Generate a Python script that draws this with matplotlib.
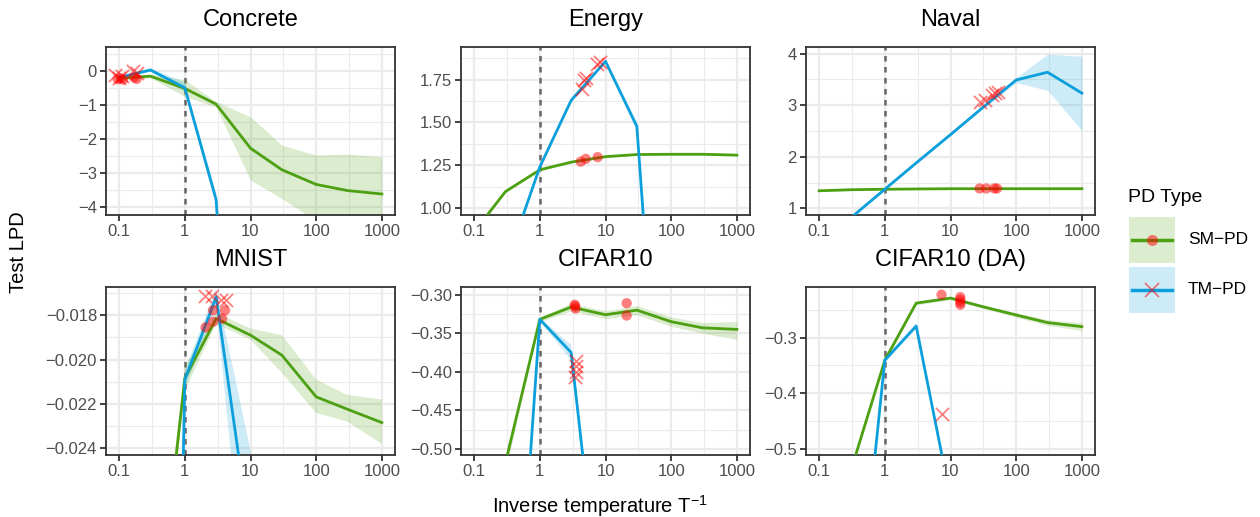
import numpy as np
import matplotlib
matplotlib.use("Agg")
import matplotlib.pyplot as plt
from matplotlib.patches import Rectangle

plt.rcParams['font.family'] = ['Liberation Sans', 'DejaVu Sans']
plt.rcParams['mathtext.fontset'] = 'custom'
plt.rcParams['mathtext.rm'] = 'Liberation Sans'

GREEN = '#4da012'
BLUE = '#0b9fdc'
MARK = (1.0, 0.0, 0.0, 0.5)

temps = [0.1, 0.3, 1, 3, 10, 30, 100, 300, 1000]

# Concrete
concrete_sm = [-0.22, -0.16, -0.52, -0.98, -2.27, -2.90, -3.33, -3.51, -3.61]
concrete_sm_lo = [-0.27, -0.21, -0.75, -1.07, -3.20, -3.74, -4.40, -4.45, -4.45]
concrete_sm_hi = [-0.17, -0.11, -0.26, -0.91, -1.35, -2.18, -2.47, -2.44, -2.52]
concrete_tm = [-0.20, 0.02, -0.50, -3.78, -20.0, -25.0, -30.0, -30.0, -30.0]
concrete_tm_lo = [-0.24, -0.03, -0.62, -3.95, -22.0, -27.0, -32.0, -32.0, -32.0]
concrete_tm_hi = [-0.16, 0.07, -0.34, -3.60, -18.0, -23.0, -28.0, -28.0, -28.0]
concrete_sm_pts_x = [0.095, 0.105, 0.115, 0.17, 0.185]
concrete_sm_pts_y = [-0.25, -0.22, -0.26, -0.20, -0.24]
concrete_tm_pts_x = [0.088, 0.10, 0.112, 0.165, 0.19]
concrete_tm_pts_y = [-0.13, -0.20, -0.16, 0.00, -0.07]

# Energy
energy_sm = [0.86, 1.096, 1.223, 1.268, 1.300, 1.3125, 1.314, 1.314, 1.309]
energy_sm_lo = [0.855, 1.091, 1.218, 1.263, 1.295, 1.3075, 1.309, 1.309, 1.304]
energy_sm_hi = [0.865, 1.101, 1.228, 1.273, 1.305, 1.3175, 1.319, 1.319, 1.314]
energy_tm = [0.20, 0.66, 1.24, 1.629, 1.857, 1.477, -1.3, -3.0, -5.0]
energy_tm_lo = [0.19, 0.65, 1.23, 1.619, 1.847, 1.452, -1.4, -3.1, -5.1]
energy_tm_hi = [0.21, 0.67, 1.25, 1.639, 1.867, 1.502, -1.2, -2.9, -4.9]
energy_sm_pts_x = [4.2, 5.0, 7.6]
energy_sm_pts_y = [1.271, 1.287, 1.297]
energy_tm_pts_x = [4.4, 4.7, 5.0, 7.3, 8.2]
energy_tm_pts_y = [1.697, 1.746, 1.76, 1.844, 1.853]

# Naval
naval_sm = [1.34, 1.36, 1.37, 1.375, 1.38, 1.38, 1.38, 1.38, 1.38]
naval_sm_lo = [1.33, 1.35, 1.36, 1.365, 1.37, 1.37, 1.37, 1.37, 1.37]
naval_sm_hi = [1.35, 1.37, 1.38, 1.385, 1.39, 1.39, 1.39, 1.39, 1.39]
naval_tm = [0.31, 0.81, 1.37, 1.88, 2.43, 2.94, 3.49, 3.64, 3.235]
naval_tm_lo = [0.29, 0.79, 1.35, 1.86, 2.41, 2.92, 3.44, 3.29, 2.51]
naval_tm_hi = [0.33, 0.83, 1.39, 1.90, 2.45, 2.96, 3.54, 3.99, 3.95]
naval_sm_pts_x = [27.8, 35.0, 46.5, 51.0]
naval_sm_pts_y = [1.385, 1.385, 1.385, 1.385]
naval_tm_pts_x = [28.5, 33.7, 42.6, 47.8, 53.6]
naval_tm_pts_y = [3.065, 3.10, 3.19, 3.23, 3.26]

# MNIST
mnist_sm = [-0.060, -0.0347, -0.02085, -0.01815, -0.0189, -0.0198, -0.02168, -0.02224, -0.02284]
mnist_sm_lo = [-0.062, -0.0357, -0.0214, -0.0184, -0.0191, -0.0206, -0.0224, -0.0228, -0.0238]
mnist_sm_hi = [-0.058, -0.0337, -0.0203, -0.0179, -0.0186, -0.0189, -0.0209, -0.0216, -0.0218]
mnist_tm = [-0.150, -0.100, -0.0209, -0.01718, -0.0281, -0.040, -0.050, -0.060, -0.070]
mnist_tm_lo = [-0.152, -0.102, -0.0213, -0.0176, -0.0330, -0.045, -0.055, -0.065, -0.075]
mnist_tm_hi = [-0.148, -0.098, -0.0205, -0.0168, -0.0241, -0.035, -0.045, -0.055, -0.065]
mnist_sm_pts_x = [2.07, 2.69, 2.69, 3.7, 4.1]
mnist_sm_pts_y = [-0.01855, -0.01778, -0.0183, -0.01815, -0.01778]
mnist_tm_pts_x = [2.0, 2.6, 3.6, 4.3]
mnist_tm_pts_y = [-0.01712, -0.01715, -0.01733, -0.0173]

# CIFAR10
cifar_sm = [-0.70, -0.518, -0.332, -0.316, -0.326, -0.320, -0.335, -0.343, -0.345]
cifar_sm_lo = [-0.71, -0.528, -0.335, -0.321, -0.331, -0.326, -0.341, -0.350, -0.358]
cifar_sm_hi = [-0.69, -0.508, -0.329, -0.311, -0.321, -0.314, -0.329, -0.336, -0.335]
cifar_tm = [-1.5, -0.975, -0.332, -0.375, -0.77, -1.0, -1.2, -1.4, -1.6]
cifar_tm_lo = [-1.51, -0.985, -0.334, -0.385, -0.78, -1.01, -1.21, -1.41, -1.61]
cifar_tm_hi = [-1.49, -0.965, -0.330, -0.365, -0.76, -0.99, -1.19, -1.39, -1.59]
cifar_sm_pts_x = [3.4, 3.45, 3.5, 21.0, 21.0]
cifar_sm_pts_y = [-0.313, -0.315, -0.318, -0.311, -0.327]
cifar_tm_pts_x = [3.5, 3.5, 3.55, 3.4]
cifar_tm_pts_y = [-0.386, -0.392, -0.400, -0.407]

# CIFAR10 (DA)
cifarda_sm = [-0.78, -0.542, -0.3406, -0.2376, -0.2285, -0.2436, -0.259, -0.2727, -0.280]
cifarda_sm_lo = [-0.785, -0.546, -0.3436, -0.2406, -0.2315, -0.2466, -0.263, -0.2777, -0.287]
cifarda_sm_hi = [-0.775, -0.538, -0.3376, -0.2346, -0.2255, -0.2406, -0.255, -0.2677, -0.273]
cifarda_tm = [-1.5, -0.94, -0.3406, -0.279, -0.589, -0.8, -1.0, -1.2, -1.4]
cifarda_tm_lo = [-1.51, -0.95, -0.3446, -0.284, -0.599, -0.81, -1.01, -1.21, -1.41]
cifarda_tm_hi = [-1.49, -0.93, -0.3366, -0.274, -0.579, -0.79, -0.99, -1.19, -1.39]
cifarda_sm_pts_x = [7.3, 14.1, 14.1, 14.1, 14.1]
cifarda_sm_pts_y = [-0.2224, -0.2267, -0.2315, -0.2364, -0.2406]
cifarda_tm_pts_x = [7.3]
cifarda_tm_pts_y = [-0.4376]

panels = [
    ('Concrete', concrete_sm, concrete_sm_lo, concrete_sm_hi, concrete_tm, concrete_tm_lo, concrete_tm_hi,
     concrete_sm_pts_x, concrete_sm_pts_y, concrete_tm_pts_x, concrete_tm_pts_y,
     (-4.225, 0.694), [0, -1, -2, -3, -4], '%d'),
    ('Energy', energy_sm, energy_sm_lo, energy_sm_hi, energy_tm, energy_tm_lo, energy_tm_hi,
     energy_sm_pts_x, energy_sm_pts_y, energy_tm_pts_x, energy_tm_pts_y,
     (0.959, 1.941), [1.00, 1.25, 1.50, 1.75], '%.2f'),
    ('Naval', naval_sm, naval_sm_lo, naval_sm_hi, naval_tm, naval_tm_lo, naval_tm_hi,
     naval_sm_pts_x, naval_sm_pts_y, naval_tm_pts_x, naval_tm_pts_y,
     (0.87, 4.13), [1, 2, 3, 4], '%d'),
    ('MNIST', mnist_sm, mnist_sm_lo, mnist_sm_hi, mnist_tm, mnist_tm_lo, mnist_tm_hi,
     mnist_sm_pts_x, mnist_sm_pts_y, mnist_tm_pts_x, mnist_tm_pts_y,
     (-0.0243, -0.01673), [-0.018, -0.020, -0.022, -0.024], '%.3f'),
    ('CIFAR10', cifar_sm, cifar_sm_lo, cifar_sm_hi, cifar_tm, cifar_tm_lo, cifar_tm_hi,
     cifar_sm_pts_x, cifar_sm_pts_y, cifar_tm_pts_x, cifar_tm_pts_y,
     (-0.508, -0.290), [-0.30, -0.35, -0.40, -0.45, -0.50], '%.2f'),
    ('CIFAR10 (DA)', cifarda_sm, cifarda_sm_lo, cifarda_sm_hi, cifarda_tm, cifarda_tm_lo, cifarda_tm_hi,
     cifarda_sm_pts_x, cifarda_sm_pts_y, cifarda_tm_pts_x, cifarda_tm_pts_y,
     (-0.5115, -0.2085), [-0.3, -0.4, -0.5], '%.1f'),
]

W, H = 1260, 517
fig = plt.figure(figsize=(W / 100, H / 100), dpi=100)

col_left = [106, 461, 806]
row_top = [47, 287]
pw, ph = 289, 168

xticks = [0.1, 1, 10, 100, 1000]
xlabels = ['0.1', '1', '10', '100', '1000']

for i, p in enumerate(panels):
    (name, sm, sm_lo, sm_hi, tm, tm_lo, tm_hi,
     smx, smy, tmx, tmy, ylim, yticks, fmt) = p
    l = col_left[i % 3]
    t = row_top[i // 3]
    ax = fig.add_axes([l / W, 1 - (t + ph) / H, pw / W, ph / H])
    ax.set_xscale('log')
    ax.set_xlim(10 ** -1.2, 10 ** 3.2)
    ax.set_ylim(*ylim)

    # grid like theme_bw
    for xt in xticks:
        ax.axvline(xt, color='#ebebeb', lw=1.6, zorder=0)
    for xm in [10 ** -0.5, 10 ** 0.5, 10 ** 1.5, 10 ** 2.5]:
        ax.axvline(xm, color='#ebebeb', lw=0.8, zorder=0)
    step = abs(yticks[1] - yticks[0])
    for yt in yticks:
        ax.axhline(yt, color='#ebebeb', lw=1.6, zorder=0)
    ymin_t = min(yticks) - step
    for k in range(len(yticks) + 1):
        ax.axhline(ymin_t + step * (k + 0.5), color='#ebebeb', lw=0.8, zorder=0)

    ax.axvline(1, color='#666666', lw=1.8, ls=(0, (2.2, 2.2)), zorder=1)

    ax.fill_between(temps, sm_lo, sm_hi, color=GREEN, alpha=0.2, lw=0, zorder=2)
    ax.fill_between(temps, tm_lo, tm_hi, color=BLUE, alpha=0.2, lw=0, zorder=2)
    ax.plot(temps, sm, color=GREEN, lw=2.0, zorder=3)
    ax.plot(temps, tm, color=BLUE, lw=2.0, zorder=3)
    ax.scatter(smx, smy, s=55, color=MARK, edgecolors='none', zorder=4)
    ax.scatter(tmx, tmy, s=90, marker='x', color=MARK, linewidths=1.3, zorder=4)

    ax.set_xticks(xticks)
    ax.set_xticklabels(xlabels)
    ax.xaxis.set_minor_locator(matplotlib.ticker.NullLocator())
    ax.set_yticks(yticks)
    ax.set_yticklabels([(fmt % v).replace('-', '\u2212') for v in yticks])
    ax.tick_params(axis='both', length=4.5, width=1.3, color='#333333',
                   labelcolor='#4d4d4d', labelsize=12, pad=2)
    for s in ax.spines.values():
        s.set_color('#333333')
        s.set_linewidth(1.3)
    ax.set_title(name, fontsize=17, pad=15)

fig.text(18 / W, 1 - 252 / H, 'Test LPD', rotation=90, fontsize=14.5,
         ha='center', va='center')
fig.text(600 / W, 1 - 506 / H, 'Inverse temperature T$^{\\mathregular{\u22121}}$',
         fontsize=14.5, ha='center', va='center')

# legend drawn by hand: square keys with ribbon fill, line and marker
fig.text(1128 / W, 1 - 197 / H, 'PD Type', fontsize=14, ha='left', va='center')
legend_items = [('SM\u2212PD', GREEN, 'o', 217), ('TM\u2212PD', BLUE, 'x', 267)]
for label, col, mk, top in legend_items:
    kax = fig.add_axes([1129 / W, 1 - (top + 46) / H, 46 / W, 46 / H])
    kax.set_xlim(0, 1)
    kax.set_ylim(0, 1)
    kax.axis('off')
    kax.add_patch(Rectangle((0, 0), 1, 1, facecolor=col, alpha=0.2, edgecolor='none'))
    kax.plot([0.07, 0.93], [0.5, 0.5], color=col, lw=2.5)
    if mk == 'o':
        kax.plot([0.5], [0.5], marker='o', markersize=8, markerfacecolor=MARK,
                 markeredgecolor='none')
    else:
        kax.plot([0.5], [0.5], marker='x', markersize=10, markeredgecolor=MARK,
                 markeredgewidth=1.3)
    fig.text(1188 / W, 1 - (top + 23) / H, label, fontsize=12.5, ha='left', va='center')

fig.savefig('out.png', dpi=100)
